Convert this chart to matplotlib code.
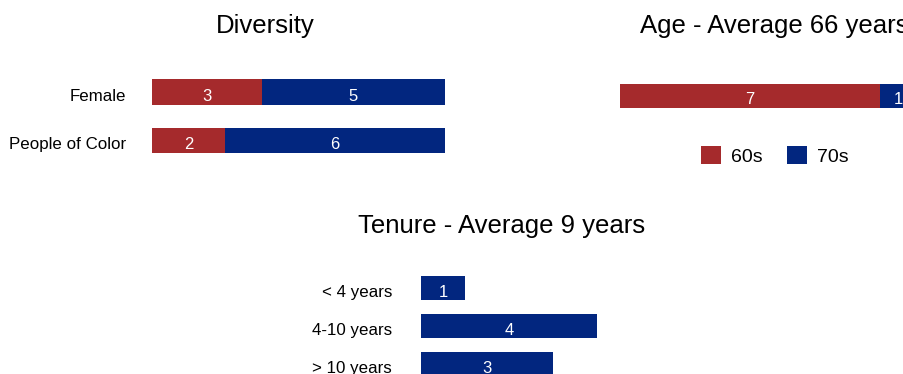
import matplotlib
matplotlib.use("Agg")
import matplotlib.pyplot as plt
import matplotlib.transforms as mtransforms
from matplotlib.patches import Patch

plt.rcParams['font.family'] = ['Liberation Sans', 'DejaVu Sans']

RED = '#A52A2C'
BLUE = '#02267F'

# Data
div_categories = ['Female', 'People of Color']
div_red = [3, 2]
div_blue = [5, 6]

age_series = ['60s', '70s']
age_values = [7, 1]

ten_categories = ['< 4 years', '4-10 years', '> 10 years']
ten_values = [1, 4, 3]

titles = ['Diversity', 'Age - Average 66 years', 'Tenure - Average 9 years']

W, H = 904, 374
fig = plt.figure(figsize=(W / 100, H / 100), dpi=100)

LBL = 12.2
VAL = 12


def px_axes(x0, x1, ytop, ybot):
    return fig.add_axes([x0 / W, 1 - ybot / H, (x1 - x0) / W, (ybot - ytop) / H])


def down(ax, px, base=None):
    base = ax.transData if base is None else base
    return base + mtransforms.ScaledTranslation(0, -px / 100, fig.dpi_scale_trans)


def clean(ax):
    for s in ax.spines.values():
        s.set_visible(False)
    ax.set_xticks([])
    ax.set_yticks([])


def cat_labels(ax, cats, pad_px, dy):
    tr = mtransforms.blended_transform_factory(ax.transAxes, ax.transData)
    tr = tr + mtransforms.ScaledTranslation(-pad_px / 100, -dy / 100, fig.dpi_scale_trans)
    for i, c in enumerate(cats):
        ax.text(0, i, c, ha='right', va='baseline', fontsize=LBL, transform=tr, clip_on=False)


# ---- Diversity ----
ax1 = px_axes(152, 445, 67.75, 164.75)
ypos = list(range(len(div_categories)))
ax1.barh(ypos, div_red, height=0.53, color=RED)
ax1.barh(ypos, div_blue, left=div_red, height=0.53, color=BLUE)
for y, r, b in zip(ypos, div_red, div_blue):
    ax1.text(r / 2, y, str(r), color='white', ha='center', va='baseline', fontsize=VAL, transform=down(ax1, 8.7))
    ax1.text(r + b / 2, y, str(b), color='white', ha='center', va='baseline', fontsize=VAL, transform=down(ax1, 8.7))
ax1.set_xlim(0, 8)
ax1.set_ylim(1.5, -0.5)
clean(ax1)
cat_labels(ax1, div_categories, 26, 8.7)

# ---- Age ----
ax2 = px_axes(620, 917, 71, 121)
ax2.barh([0], [age_values[0]], height=0.5, color=RED)
ax2.barh([0], [age_values[1]], left=[age_values[0]], height=0.5, color=BLUE)
ax2.text(age_values[0] / 2, 0, str(age_values[0]), color='white', ha='center', va='baseline', fontsize=VAL, transform=down(ax2, 8))
ax2.text(age_values[0] + age_values[1] / 2, 0, str(age_values[1]), color='white', ha='center', va='baseline', fontsize=VAL, transform=down(ax2, 8))
ax2.set_xlim(0, 8)
ax2.set_ylim(0.5, -0.5)
clean(ax2)

handles = [Patch(facecolor=RED), Patch(facecolor=BLUE)]
fig.legend(handles, age_series, loc='center', bbox_to_anchor=(775 / W, 1 - 156 / H),
           ncol=2, frameon=False, fontsize=14, handlelength=1.0, handleheight=1.0,
           handletextpad=0.55, columnspacing=1.25, borderpad=0)

# ---- Tenure ----
ax3 = px_axes(421, 597, 269, 383)
tpos = list(range(len(ten_categories)))
ax3.barh(tpos, ten_values, height=0.63, color=BLUE)
for y, v in zip(tpos, ten_values):
    ax3.text(v / 2, y, str(v), color='white', ha='center', va='baseline', fontsize=VAL, transform=down(ax3, 8.5))
ax3.set_xlim(0, 4)
ax3.set_ylim(2.5, -0.5)
clean(ax3)
cat_labels(ax3, ten_categories, 29, 8.5)

# ---- Titles ----
fig.text(265 / W, 1 - 32.5 / H, titles[0], ha='center', va='baseline', fontsize=18.5)
fig.text(640 / W, 1 - 33 / H, titles[1], ha='left', va='baseline', fontsize=18.5)
fig.text(501.5 / W, 1 - 233 / H, titles[2], ha='center', va='baseline', fontsize=18.5)

fig.savefig('out.png', dpi=100, facecolor='white')
